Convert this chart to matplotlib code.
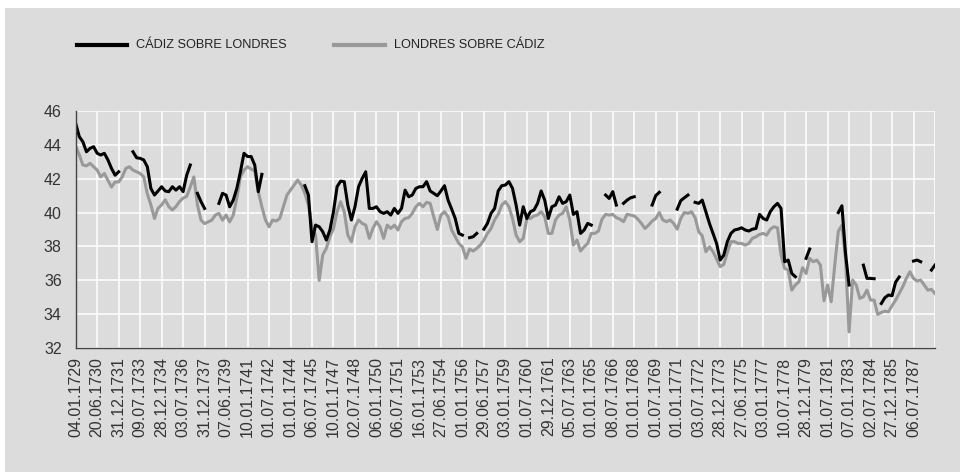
import numpy as np
import matplotlib
matplotlib.use("Agg")
import matplotlib.pyplot as plt
from matplotlib.patches import Rectangle
from matplotlib.lines import Line2D

nan = np.nan

tick_labels = [
    "04.01.1729", "20.06.1730", "31.12.1731", "09.07.1733", "28.12.1734",
    "03.07.1736", "31.12.1737", "07.06.1739", "10.01.1741", "01.07.1742",
    "01.01.1744", "06.07.1745", "10.01.1747", "02.07.1748", "06.01.1750",
    "06.07.1751", "16.01.1753", "27.06.1754", "01.01.1756", "29.06.1757",
    "03.01.1759", "01.07.1760", "29.12.1761", "05.07.1763", "01.01.1765",
    "08.07.1766", "01.01.1768", "01.07.1769", "01.01.1771", "03.07.1772",
    "28.12.1773", "27.06.1775", "03.01.1777", "10.07.1778", "28.12.1779",
    "01.07.1781", "07.01.1783", "02.07.1784", "27.12.1785", "06.07.1787",
]

series_names = ["CÁDIZ SOBRE LONDRES", "LONDRES SOBRE CÁDIZ"]

# observations per labelled tick interval
points_per_tick = 6

cadiz_sobre_londres = [
    45.25, 44.47, 44.17, 43.58, 43.78, 43.88, 43.49, 43.39, 43.49, 43.1,
    42.6, 42.2, 42.4, nan, nan, nan, 43.58, 43.23, 43.19, 43.1,
    42.7, 41.42, 41.03, 41.27, 41.52, 41.27, 41.23, 41.52, 41.32, 41.52,
    41.23, 42.2, 42.8, nan, 41.13, 40.64, 40.24, nan, nan, nan,
    40.54, 41.13, 41.03, 40.34, 40.73, 41.42, 42.4, 43.49, 43.3,
    43.3, 42.8, 41.23, 42.25, nan, nan, nan, nan, nan, nan,
    nan, nan, nan, nan, nan, 41.58, 41.03, 38.28, 39.26, 39.16,
    38.87, 38.38, 38.97, 40.05, 41.52, 41.85, 41.82, 40.44, 39.56, 40.34,
    41.52, 42.0, 42.4, 40.24, 40.24, 40.34, 40.05, 39.95, 40.05, 39.85,
    40.24, 39.95, 40.24, 41.32, 40.93, 41.03, 41.42, 41.52,
    41.52, 41.82, 41.27, 41.13, 40.99, 41.27, 41.58, 40.73, 40.2, 39.65,
    38.77, 38.67, nan, 38.52, 38.57, 38.77, nan, 39.02, 39.36, 39.95,
    40.24, 41.27, 41.58, 41.62, 41.82, 41.42, 40.44, 39.26, 40.34, 39.65,
    40.05, 40.15, 40.54, 41.27, 40.73, 39.65, 40.34, 40.44, 40.93, 40.54,
    40.64, 41.03, 39.89, 40.05, 38.77, 38.97, 39.36, 39.26,
    nan, nan, nan, 41.03, 40.83, 41.23, 40.44, nan, 40.54, 40.73,
    40.87, 40.93, nan, nan, nan, nan, 40.44, 41.0, 41.19, nan,
    nan, nan, nan, 40.2, 40.7, 40.87, 41.03, nan, 40.6, 40.54,
    40.73, 40.05, 39.36, 38.77, 38.18, 37.2, 37.49, 38.28, 38.77, 38.97,
    39.02, 39.1, 38.97, 38.91, 39.02, 39.06, 39.89, 39.65,
    39.56, 40.05, 40.34, 40.54, 40.24, 37.1, 37.2, 36.41, 36.22, nan,
    nan, 37.3, 37.85, nan, nan, nan, nan, nan, nan, nan,
    40.0, 40.4, 37.6, 35.73, nan, nan, nan, 36.9, 36.12, 36.12,
    36.1, nan, 34.64, 34.98, 35.14, 35.1, 35.9, 36.2, nan, nan,
    nan, 37.14, 37.2, 37.1, nan, nan, 36.61, 36.9,
]

londres_sobre_cadiz = [
    43.9, 43.4, 42.8, 42.75, 42.9, 42.7, 42.5, 42.1, 42.3, 41.9,
    41.5, 41.8, 41.8, 42.1, 42.6, 42.7, 42.5, 42.4, 42.3, 42.1,
    41.1, 40.45, 39.65, 40.25, 40.45, 40.75, 40.35, 40.15, 40.35, 40.65,
    40.85, 40.95, 41.5, 42.1, 40.45, 39.55, 39.35, 39.45, 39.55, 39.85,
    39.95, 39.55, 39.85, 39.45, 39.85, 40.85, 42.1, 42.5, 42.7,
    42.56, 42.44, 41.23, 40.34, 39.56, 39.16, 39.56, 39.5, 39.65, 40.34,
    41.03, 41.32, 41.62, 41.91, 41.62, 41.13, 40.44, 39.16, 38.67, 36.0,
    37.5, 37.89, 38.57, 39.06, 40.05, 40.64, 40.05, 38.67, 38.28, 39.16,
    39.56, 39.36, 39.26, 38.48, 39.06, 39.46, 39.16, 38.48, 39.26, 39.06,
    39.26, 38.97, 39.46, 39.65, 39.7, 39.95, 40.34, 40.54,
    40.34, 40.6, 40.54, 39.75, 39.0, 39.85, 40.05, 39.75, 38.97, 38.57,
    38.18, 37.98, 37.3, 37.85, 37.73, 37.89, 38.08, 38.38, 38.77, 39.06,
    39.56, 39.89, 40.44, 40.64, 40.34, 39.65, 38.67, 38.28, 38.48, 39.65,
    39.65, 39.8, 39.85, 40.05, 39.75, 38.77, 38.77, 39.56, 39.85, 39.95,
    40.34, 39.56, 38.08, 38.38, 37.73, 37.98, 38.18, 38.77,
    38.77, 38.91, 39.61, 39.89, 39.85, 39.89, 39.7, 39.61, 39.46, 39.89,
    39.85, 39.8, 39.61, 39.36, 39.06, 39.26, 39.5, 39.65, 40.0, 39.56,
    39.46, 39.56, 39.36, 39.02, 39.65, 40.0, 39.95, 40.05, 39.7, 38.87,
    38.63, 37.69, 37.98, 37.69, 37.26, 36.81, 36.94, 37.65, 38.28, 38.28,
    38.18, 38.18, 38.08, 38.18, 38.48, 38.57, 38.71, 38.77,
    38.67, 39.02, 39.16, 39.1, 37.49, 36.71, 36.61, 35.43, 35.73, 35.92,
    36.75, 36.41, 37.3, 37.1, 37.2, 36.9, 34.8, 35.73, 34.74, 36.9,
    38.9, 39.25, 37.3, 32.97, 36.02, 35.73, 34.94, 35.04, 35.43, 34.84,
    34.84, 34.0, 34.11, 34.19, 34.15, 34.51, 34.84, 35.23, 35.63, 36.12,
    36.51, 36.12, 35.96, 36.02, 35.73, 35.43, 35.47, 35.23,
]

BG = "#dcdcdc"
GRAY = "#999999"
TXT = "#333333"
W, H = 960, 472

fig = plt.figure(figsize=(W / 100, H / 100), dpi=100)
fig.patch.set_facecolor("white")
fig.add_artist(Rectangle((5 / W, 0), 1, 1 - 8 / H, transform=fig.transFigure,
                         facecolor=BG, edgecolor="none", zorder=-5))

left, right, top, bottom = 75.7, 935.0, 110.7, 348.3
ax = fig.add_axes([left / W, 1 - bottom / H, (right - left) / W, (bottom - top) / H])
ax.set_facecolor(BG)

cad = np.array(cadiz_sobre_londres, dtype=float)
lon = np.array(londres_sobre_cadiz, dtype=float)
x_lon = np.arange(len(lon)) / points_per_tick
x_cad = np.arange(len(cad)) / points_per_tick

ax.plot(x_lon, lon, color=GRAY, lw=2.2, zorder=3)
ax.plot(x_cad, cad, color="black", lw=2.2, zorder=4)

ax.set_xlim(0, len(tick_labels))
ax.set_ylim(32, 46)
ax.set_yticks(np.arange(32, 47, 2))
ax.set_xticks(np.arange(len(tick_labels)))
ax.set_xticklabels(tick_labels, rotation=90, va="top", ha="center")
ax.grid(True, color="white", lw=1.1, zorder=1)
ax.axvline(len(tick_labels), color="white", lw=1.1, zorder=1)
ax.set_axisbelow(True)

for s in ["top", "right"]:
    ax.spines[s].set_visible(False)
for s in ["left", "bottom"]:
    ax.spines[s].set_color("#444444")
    ax.spines[s].set_linewidth(1.0)
    ax.spines[s].set_zorder(5)

tick_font = dict(family=["Liberation Sans", "DejaVu Sans"], size=11.5)
ax.tick_params(axis="x", length=0, pad=6, colors=TXT)
ax.tick_params(axis="y", length=0, pad=10, colors=TXT)
for lbl in ax.get_xticklabels() + ax.get_yticklabels():
    lbl.set_fontfamily(tick_font["family"])
    lbl.set_fontsize(tick_font["size"])
    lbl.set_color(TXT)

# legend drawn in figure pixel coordinates
ly = 1 - 45 / H
leg_font = dict(family=["Liberation Sans Narrow", "Liberation Sans", "DejaVu Sans"], size=9.2)
fig.add_artist(Line2D([76.5 / W, 127.4 / W], [ly, ly], color="black", lw=3,
                      transform=fig.transFigure))
fig.text(136 / W, ly, series_names[0], va="center", ha="left", color="#222222", **leg_font)
fig.add_artist(Line2D([333.7 / W, 384.6 / W], [ly, ly], color=GRAY, lw=3,
                      transform=fig.transFigure))
fig.text(393.8 / W, ly, series_names[1], va="center", ha="left", color="#222222", **leg_font)

fig.savefig("out.png", dpi=100, facecolor=fig.get_facecolor())
